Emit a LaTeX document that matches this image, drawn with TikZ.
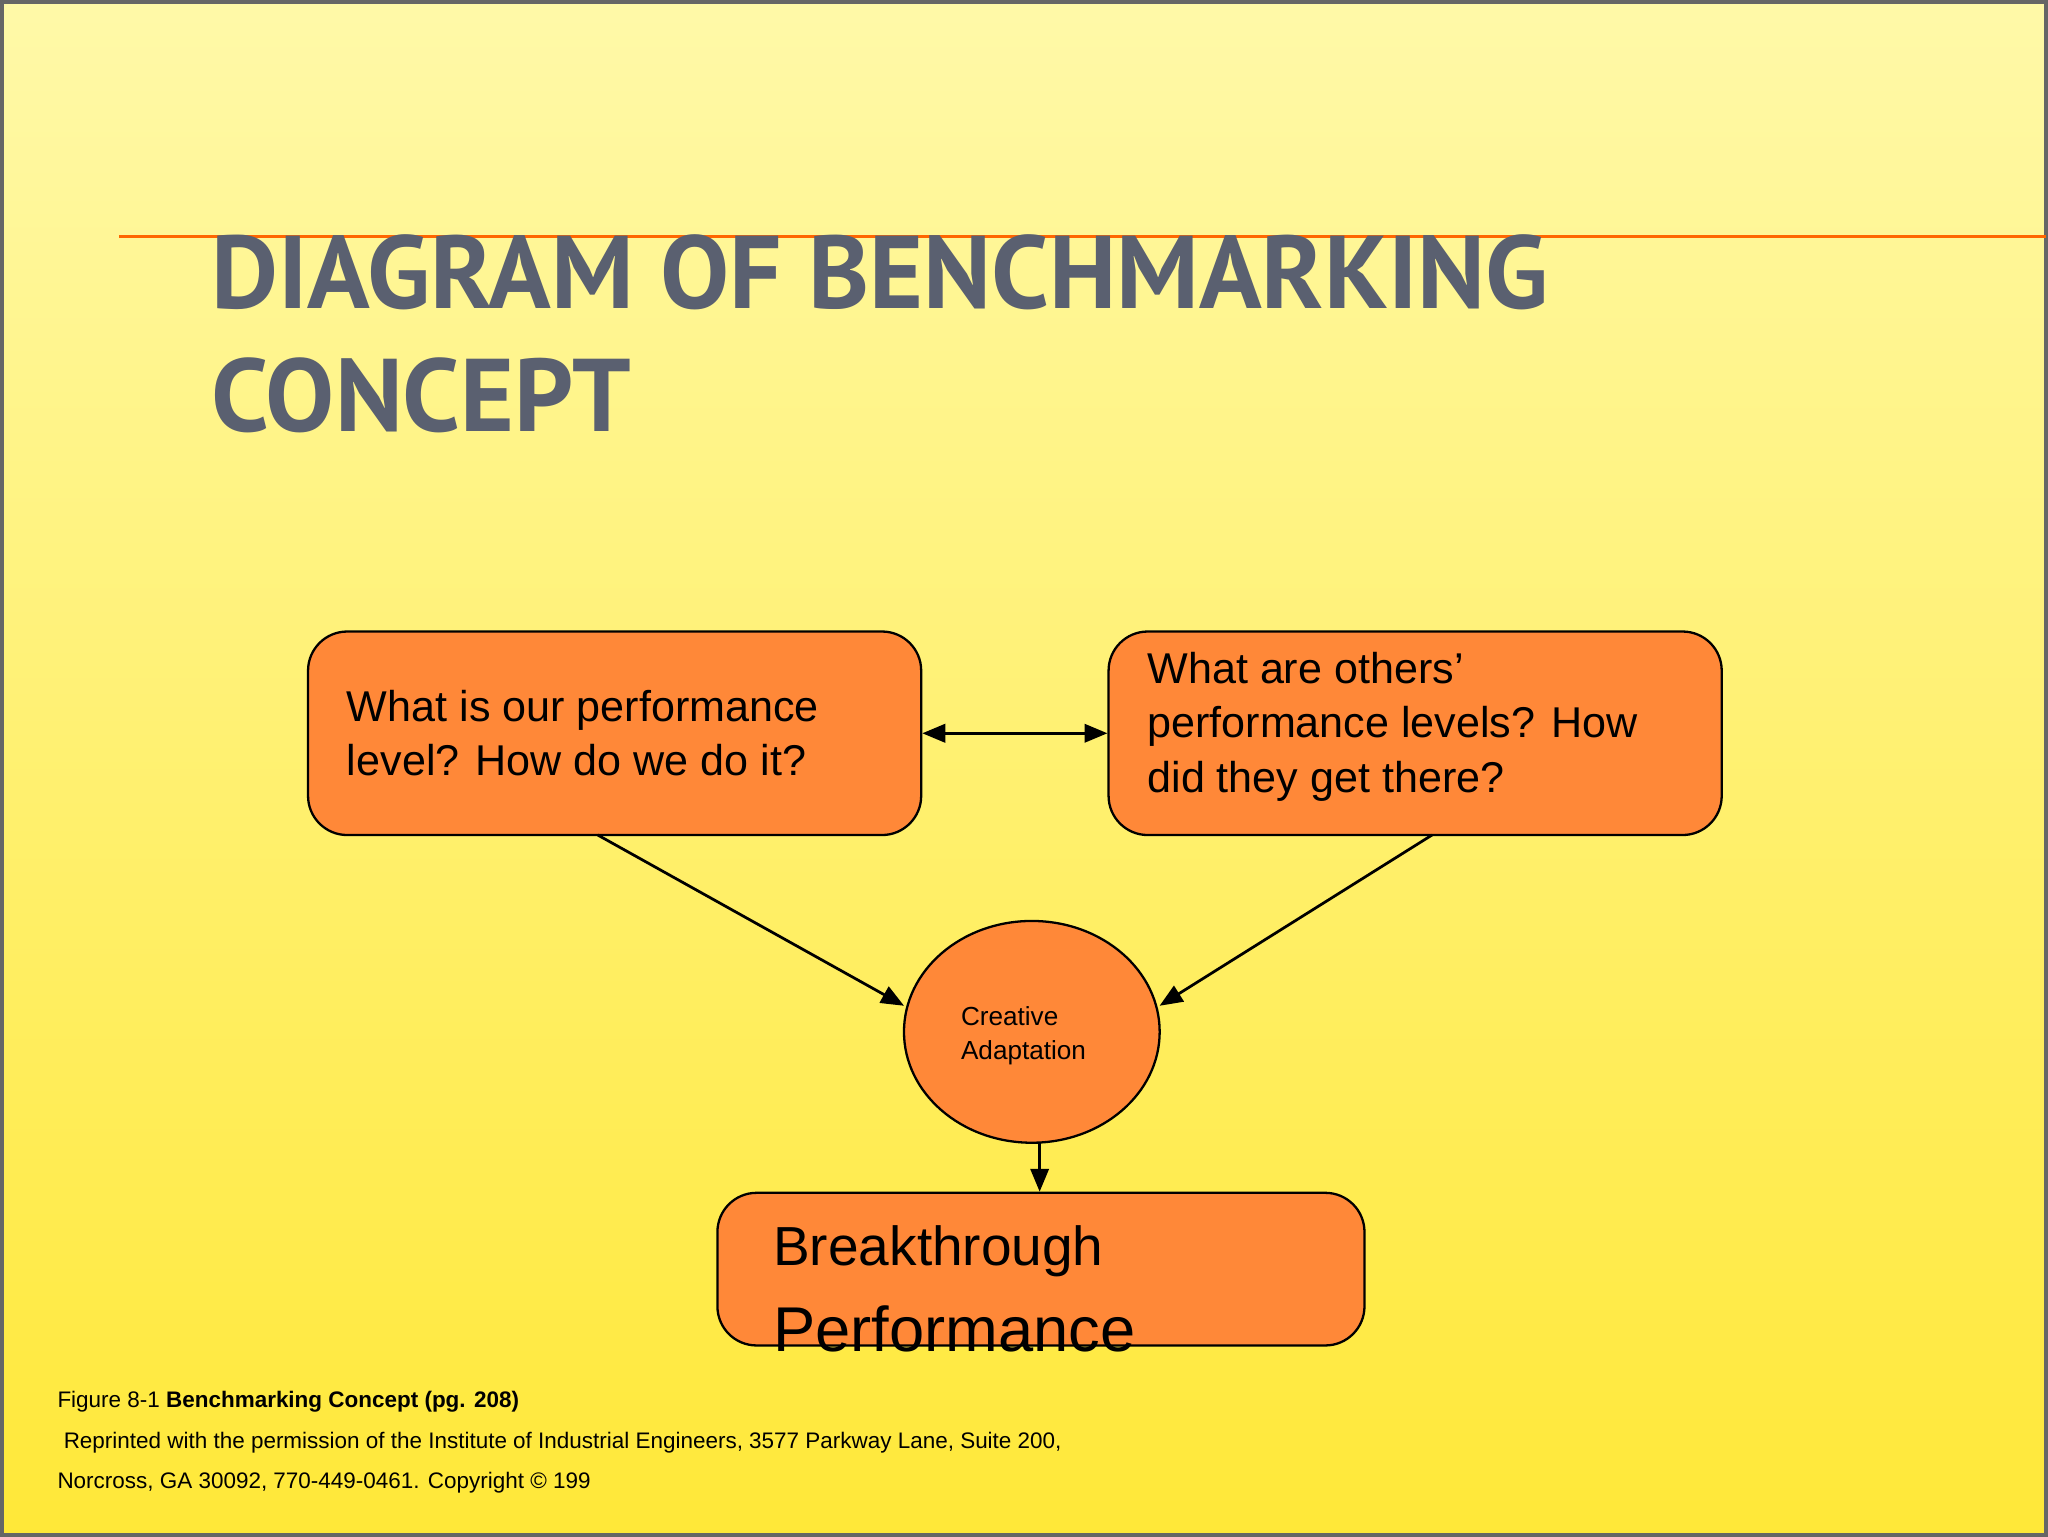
\documentclass[tikz,border=0pt]{standalone}
\usepackage{fontspec}
\setmainfont{Liberation Sans}
\newfontfamily\titlefont{PT Sans}
\usetikzlibrary{shapes.geometric,arrows.meta}
\definecolor{boxor}{HTML}{FF8838}
\definecolor{titlegr}{HTML}{5A6070}
\definecolor{bgtop}{HTML}{FFF9A8}
\definecolor{bgbot}{HTML}{FFE838}
\begin{document}
\begin{tikzpicture}[x=0.01cm,y=-0.01cm,
  rbox/.style={draw=black,fill=boxor,rounded corners=0.3cm,line width=0.5pt},
  conn/.style={-{Triangle[length=5pt,width=4pt]},line width=0.6pt},
  txt/.style={align=left,anchor=west,inner sep=0pt}]
\shade[top color=bgtop,bottom color=bgbot] (0,0) rectangle (1568,1176);
\draw[black!60,line width=0.8pt] (0,0) rectangle (1568,1176);
\useasboundingbox (0,0) rectangle (1568,1176);
\draw[orange!80!red,line width=0.7pt] (90,180) -- (1568,180);
\node[txt,anchor=north west,text=titlegr] (T) at (160,178)
  {\resizebox{10.25cm}{!}{\titlefont\bfseries DIAGRAM OF BENCHMARKING}};
\node[txt,anchor=north west,text=titlegr] (T2) at (160,272)
  {\resizebox{3.22cm}{!}{\titlefont\bfseries CONCEPT}};
\node[rbox,minimum width=4.7cm,minimum height=1.56cm] (L) at (470,561) {};
\node[rbox,minimum width=4.7cm,minimum height=1.56cm] (R) at (1084,561) {};
\node[rbox,minimum width=4.96cm,minimum height=1.17cm] (B) at (797,972) {};
\node[draw=black,fill=boxor,ellipse,minimum width=1.96cm,minimum height=1.7cm,line width=0.5pt] (E) at (790,790) {};
\node[txt,font=\fontsize{9.4pt}{11.8pt}\selectfont] (Lt) at (264,561) {What is our performance\\level? How do we do it?};
\node[txt,font=\fontsize{9.4pt}{11.8pt}\selectfont] (Rt) at (878,556) {What are others’\\performance levels? How\\did they get there?};
\node[txt,font=\fontsize{5.7pt}{7.4pt}\selectfont] (Et) at (735,793) {Creative\\Adaptation};
\node[txt,font=\fontsize{12pt}{14pt}\selectfont] (B1) at (591,958) {Breakthrough};
\node[txt,font=\fontsize{13.8pt}{16pt}\selectfont] (B2) at (591,1018) {Performance};
\draw[{Triangle[length=5pt,width=4pt]}-{Triangle[length=5pt,width=4pt]},line width=0.6pt] (L.east) -- (R.west);
\coordinate (la) at (457,639);
\coordinate (le) at (692,770);
\coordinate (ra) at (1097,639);
\coordinate (re) at (888,770);
\draw[conn] (la) -- (le);
\draw[conn] (ra) -- (re);
\draw[conn] (E.south -| B.north) ++(-1,0) coordinate (es) (796,875) -- (B.north -| 796,0);
\node[txt,font=\fontsize{4.9pt}{6pt}\selectfont] (F1) at (42,1074) {Figure 8-1 \textbf{Benchmarking Concept (pg. 208)}};
\node[txt,font=\fontsize{4.9pt}{6pt}\selectfont] (F2) at (42,1105) {\ Reprinted with the permission of the Institute of Industrial Engineers, 3577 Parkway Lane, Suite 200,};
\node[txt,font=\fontsize{4.9pt}{6pt}\selectfont] (F3) at (42,1136) {Norcross, GA 30092, 770-449-0461. Copyright © 199};
\end{tikzpicture}
\end{document}
